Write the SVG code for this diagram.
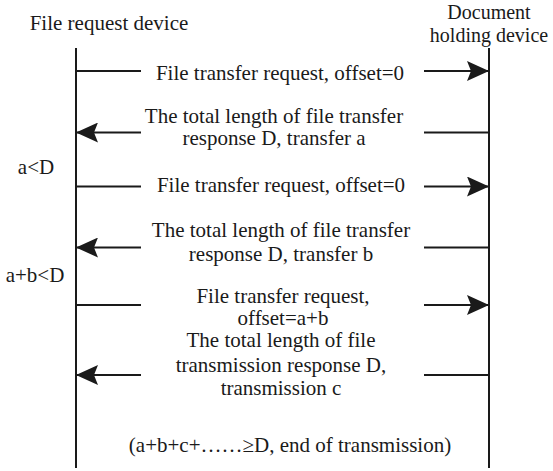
<svg xmlns="http://www.w3.org/2000/svg" width="553" height="471" viewBox="0 0 553 471">
<style>
text{font-family:"Liberation Serif","Times New Roman",serif;font-size:21px;fill:#1a1a1a}
.c{text-anchor:middle}
.h{font-size:20px}
.ln{stroke:#1a1a1a;stroke-width:2;fill:none}
</style>
<defs>
<marker id="ah" viewBox="0 0 22 20" refX="22" refY="10" markerWidth="22" markerHeight="20" markerUnits="userSpaceOnUse" orient="auto">
<path d="M22,10 L0,0 L4,10 L0,20 Z" fill="#1a1a1a"/>
</marker>
</defs>
<rect width="553" height="471" fill="#fff"/>
<g id="requester">
<text x="109" y="30" class="c">File request device</text>
<line class="ln" x1="76" y1="48" x2="76" y2="468"/>
</g>
<g id="holder">
<text x="489" y="19" class="c h">Document</text>
<text x="489" y="41.5" class="c h">holding device</text>
<line class="ln" x1="489" y1="48" x2="489" y2="468"/>
</g>
<g id="conditions">
<text x="36" y="174" class="c">a&lt;D</text>
<text x="35" y="282" class="c">a+b&lt;D</text>
<text x="290" y="452" class="c">(a+b+c+……≥D, end of transmission)</text>
</g>
<g id="connectors">
<line class="ln" x1="76" y1="71" x2="141" y2="71"/>
<line class="ln" x1="424" y1="71" x2="489" y2="71" marker-end="url(#ah)"/>
<line class="ln" x1="141" y1="132.5" x2="76" y2="132.5" marker-end="url(#ah)"/>
<line class="ln" x1="424" y1="132.5" x2="489" y2="132.5"/>
<line class="ln" x1="76" y1="186.5" x2="141" y2="186.5"/>
<line class="ln" x1="424" y1="186.5" x2="489" y2="186.5" marker-end="url(#ah)"/>
<line class="ln" x1="141" y1="247.5" x2="76" y2="247.5" marker-end="url(#ah)"/>
<line class="ln" x1="424" y1="247.5" x2="489" y2="247.5"/>
<line class="ln" x1="76" y1="305" x2="141" y2="305"/>
<line class="ln" x1="424" y1="305" x2="489" y2="305" marker-end="url(#ah)"/>
<line class="ln" x1="141" y1="375" x2="76" y2="375" marker-end="url(#ah)"/>
<line class="ln" x1="424" y1="375" x2="489" y2="375"/>
</g>
<g id="labels">
<text x="280" y="80" class="c">File transfer request, offset=0</text>
<text x="274" y="123" class="c">The total length of file transfer</text>
<text x="274" y="145" class="c">response D, transfer a</text>
<text x="281" y="192" class="c">File transfer request, offset=0</text>
<text x="281" y="237" class="c">The total length of file transfer</text>
<text x="281" y="261" class="c">response D, transfer b</text>
<text x="283" y="303" class="c">File transfer request,</text>
<text x="283" y="325" class="c">offset=a+b</text>
<text x="281" y="347" class="c">The total length of file</text>
<text x="281" y="372" class="c">transmission response D,</text>
<text x="281" y="395" class="c">transmission c</text>
</g>
</svg>
